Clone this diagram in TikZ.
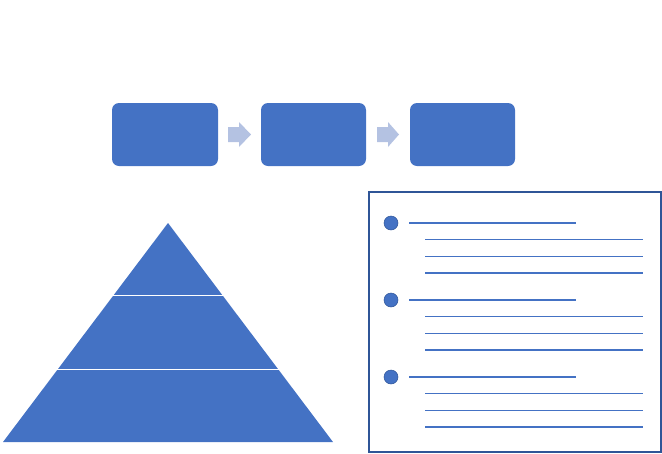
\documentclass[tikz,border=0pt]{standalone}
\usetikzlibrary{shapes.arrows}
\definecolor{accent}{HTML}{4472C4}
\definecolor{accentdark}{HTML}{2F5597}
\definecolor{arrowfill}{HTML}{B4C2E2}
\tikzset{
  stepbox/.style={fill=accent, rounded corners=7pt, draw=none},
  flowarrow/.style={fill=arrowfill, draw=none},
  bulletdot/.style={circle, fill=accent, draw=accentdark, line width=0.5pt, minimum size=14pt, inner sep=0pt},
  mainline/.style={draw=accent, line width=1.2pt},
  subline/.style={draw=accent, line width=1.2pt},
  panel/.style={draw=accentdark, line width=1.2pt, fill=none},
  divider/.style={draw=white, line width=1.5pt}
}
\begin{document}
\begin{tikzpicture}[x=1pt,y=-1pt]
\useasboundingbox (0,0) rectangle (662,453);
% top process boxes
\path[stepbox] (112,103) rectangle (218,166);
\path[stepbox] (261,103) rectangle (366,166);
\path[stepbox] (410,103) rectangle (515,166);
\node (b1) at (165,134.5) {};
\node (b2) at (313.5,134.5) {};
\node (b3) at (462.5,134.5) {};
% arrows
\path[flowarrow] (228,127) -- (239,127) -- (239,122) -- (251,134.5) -- (239,147) -- (239,142) -- (228,142) -- cycle;
\path[flowarrow] (377,127) -- (388,127) -- (388,122) -- (399,134.5) -- (388,147) -- (388,142) -- (377,142) -- cycle;
% pyramid
\path[fill=accent] (168,223) -- (333,442) -- (3,442) -- cycle;
\coordinate (p1l) at (113,295.5);
\coordinate (p1r) at (223,295.5);
\coordinate (p2l) at (57,369.5);
\coordinate (p2r) at (279,369.5);
\draw[divider] (p1l) -- (p1r);
\draw[divider] (p2l) -- (p2r);
% right panel
\draw[panel] (369,192) rectangle (661,452);
\foreach \y [count=\i] in {223,300,377}{
  \node[bulletdot] (d\i) at (391,\y) {};
  \draw[mainline] (409,\y) -- (576,\y);
  \draw[subline] (425,\y+16.5) -- (643,\y+16.5);
  \draw[subline] (425,\y+33.3) -- (643,\y+33.3);
  \draw[subline] (425,\y+50) -- (643,\y+50);
}
\end{tikzpicture}
\end{document}
